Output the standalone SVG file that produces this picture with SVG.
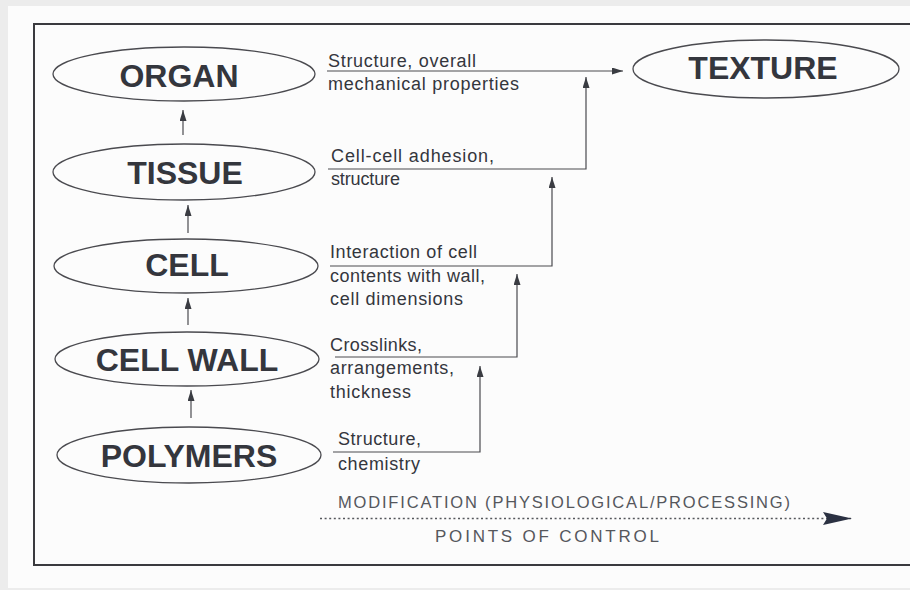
<svg xmlns="http://www.w3.org/2000/svg" width="910" height="590" viewBox="0 0 910 590">
<defs>
<style>
.node ellipse{fill:none;stroke:#4a4a4f;stroke-width:1.3}
.node text{font-family:"Liberation Sans",Arial,sans-serif;font-weight:bold;font-size:32px;fill:#34363d;text-anchor:middle}
.lbl{font-family:"Liberation Sans",Arial,sans-serif;font-size:18px;fill:#34363d}
.conn{fill:none;stroke:#4a4a4f;stroke-width:1.2}
.bot{font-family:"Liberation Sans",Arial,sans-serif;fill:#55575c}
</style>
<marker id="ah" markerUnits="userSpaceOnUse" markerWidth="12" markerHeight="8" refX="11" refY="3.5" orient="auto">
<path d="M0,0 L11,3.5 L0,7 z" fill="#3a3c42"/>
</marker>
<marker id="big" markerUnits="userSpaceOnUse" markerWidth="30" markerHeight="14" refX="29" refY="6.5" orient="auto">
<path d="M0,0 L29,6.5 L0,13 L4,6.5 z" fill="#2b3142"/>
</marker>
</defs>
<rect x="0" y="0" width="910" height="590" fill="#ececec"/>
<rect x="8" y="6" width="902" height="582" fill="#fcfcfc"/>
<path d="M34,565 V24 H912 M33,565 H912" fill="none" stroke="#3a3a3e" stroke-width="2"/>

<g id="organ" class="node"><ellipse cx="184" cy="74" rx="131" ry="27"/><text x="179" y="87">ORGAN</text></g>
<g id="tissue" class="node"><ellipse cx="184" cy="172" rx="131" ry="28"/><text x="185" y="184">TISSUE</text></g>
<g id="cell" class="node"><ellipse cx="186" cy="266" rx="132" ry="27"/><text x="187" y="276">CELL</text></g>
<g id="cellwall" class="node"><ellipse cx="187" cy="359" rx="132" ry="27"/><text x="187" y="371">CELL WALL</text></g>
<g id="polymers" class="node"><ellipse cx="189" cy="455" rx="132" ry="28"/><text x="189" y="467">POLYMERS</text></g>
<g id="texture" class="node"><ellipse cx="766" cy="69" rx="133" ry="29"/><text x="763" y="79">TEXTURE</text></g>

<g id="connectors">
<line class="conn" x1="183" y1="135" x2="183" y2="110" marker-end="url(#ah)"/>
<line class="conn" x1="188" y1="233" x2="188" y2="205" marker-end="url(#ah)"/>
<line class="conn" x1="188" y1="325" x2="188" y2="298" marker-end="url(#ah)"/>
<line class="conn" x1="191" y1="418" x2="191" y2="390" marker-end="url(#ah)"/>
<line class="conn" x1="327" y1="71" x2="623" y2="71" marker-end="url(#ah)"/>
<polyline class="conn" points="328,169 586,169 586,77" marker-end="url(#ah)"/>
<polyline class="conn" points="330,266 552,266 552,177" marker-end="url(#ah)"/>
<polyline class="conn" points="335,357 517,357 517,274" marker-end="url(#ah)"/>
<polyline class="conn" points="333,452 480,452 480,366" marker-end="url(#ah)"/>
<line x1="320" y1="518.5" x2="852" y2="518.5" stroke="#55575c" stroke-width="1.6" stroke-dasharray="2 2.6" marker-end="url(#big)"/>
</g>

<g id="labels" class="lbl">
<text x="328" y="67" textLength="148">Structure, overall</text>
<text x="328" y="90" textLength="191">mechanical properties</text>
<text x="331" y="162" textLength="163">Cell-cell adhesion,</text>
<text x="331" y="185" textLength="69">structure</text>
<text x="330" y="258" textLength="147">Interaction of cell</text>
<text x="330" y="282" textLength="155">contents with wall,</text>
<text x="330" y="305" textLength="133">cell dimensions</text>
<text x="330" y="351" textLength="92">Crosslinks,</text>
<text x="330" y="374" textLength="124">arrangements,</text>
<text x="330" y="398" textLength="81">thickness</text>
<text x="338" y="445" textLength="83">Structure,</text>
<text x="338" y="470" textLength="82">chemistry</text>
</g>
<g id="bottom" class="bot">
<text x="338" y="508" font-size="16.5" textLength="452">MODIFICATION (PHYSIOLOGICAL/PROCESSING)</text>
<text x="435" y="542" font-size="17" textLength="224">POINTS OF CONTROL</text>
</g>
</svg>
